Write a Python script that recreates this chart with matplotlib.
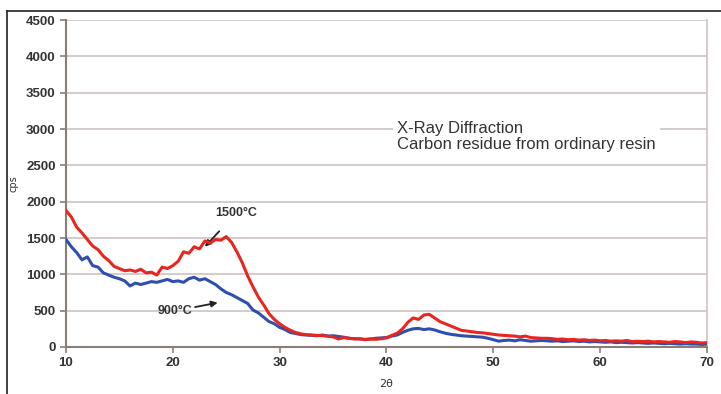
import numpy as np
import matplotlib
matplotlib.use("Agg")
import matplotlib.pyplot as plt
from matplotlib.lines import Line2D

# 2theta grid, 0.5 deg steps
two_theta = np.arange(10.0, 70.01, 0.5)

# cps
cps_1500 = [1880, 1790, 1650, 1570, 1480, 1390, 1340, 1250, 1190, 1110,
            1080, 1050, 1060, 1040, 1070, 1020, 1030, 990, 1100, 1080,
            1120, 1180, 1310, 1290, 1380, 1350, 1460, 1430, 1480, 1470,
            1520, 1440, 1310, 1160, 980, 830, 690, 580, 460, 380,
            320, 270, 230, 200, 180, 170, 165, 160, 155, 150,
            140, 110, 130, 120, 110, 115, 100, 110, 105, 115,
            125, 160, 190, 250, 340, 400, 380, 440, 450, 400,
            350, 320, 290, 260, 230, 220, 210, 200, 195, 185,
            175, 165, 160, 155, 150, 140, 150, 130, 125, 120,
            120, 115, 105, 110, 100, 105, 95, 100, 90, 95,
            85, 90, 80, 85, 80, 90, 75, 80, 75, 80,
            70, 75, 70, 65, 75, 70, 60, 70, 65, 55,
            60]

cps_900 = [1480, 1380, 1300, 1200, 1240, 1120, 1100, 1020, 990, 960,
           940, 910, 840, 880, 860, 880, 900, 890, 910, 930,
           900, 910, 890, 940, 960, 920, 940, 900, 860, 800,
           750, 720, 680, 640, 600, 510, 470, 410, 350, 320,
           270, 240, 200, 185, 170, 165, 160, 155, 165, 150,
           155, 145, 135, 120, 115, 110, 105, 110, 120, 125,
           130, 150, 165, 200, 230, 250, 255, 240, 250, 235,
           210, 190, 175, 165, 155, 150, 145, 140, 135, 120,
           100, 80, 90, 95, 85, 100, 90, 80, 85, 90,
           85, 80, 85, 75, 80, 85, 75, 80, 70, 75,
           70, 65, 70, 60, 65, 60, 55, 60, 55, 50,
           55, 50, 45, 50, 45, 40, 45, 40, 40, 35,
           40]

x_ticks = [10, 20, 30, 40, 50, 60, 70]
y_ticks = [0, 500, 1000, 1500, 2000, 2500, 3000, 3500, 4000, 4500]

fig = plt.figure(figsize=(7.21, 3.94), dpi=100)
ax = fig.add_axes([0.0915, 0.1193, 0.8891, 0.8297])

ax.plot(two_theta, cps_900, color='#2f4fae', lw=2.2, zorder=3)
ax.plot(two_theta, cps_1500, color='#e8261f', lw=2.2, zorder=4)

ax.set_xlim(10, 70)
ax.set_ylim(0, 4500)
ax.set_xticks(x_ticks)
ax.set_yticks(y_ticks)
ax.grid(axis='y', color='#cdc2c2', lw=1.2)
ax.set_axisbelow(True)

for s in ['left', 'bottom']:
    ax.spines[s].set_color('#8a7d78')
    ax.spines[s].set_linewidth(1.5)
ax.spines['right'].set_color('#cdc2c2')
ax.spines['right'].set_linewidth(1.2)
ax.spines['top'].set_visible(False)

ax.tick_params(axis='both', colors='#8a7d78', length=4, width=1.2)
for lab in ax.get_xticklabels() + ax.get_yticklabels():
    lab.set_fontweight('bold')
    lab.set_fontsize(9.5)
    lab.set_color('#333333')
    lab.set_family('Liberation Sans')

ax.set_ylabel('cps', fontsize=7, color='#333333', labelpad=5)
ax.set_xlabel('2\u03b8', fontsize=8, color='#333333', labelpad=7)

ax.text(0.516, 0.645, 'X-Ray Diffraction\nCarbon residue from ordinary resin',
        transform=ax.transAxes, fontsize=12, color='#333333',
        family='Liberation Sans', va='center', ha='left', linespacing=1.1,
        bbox=dict(facecolor='white', edgecolor='none', pad=3), zorder=5)

ax.annotate('1500\u00b0C', xy=(23.0, 1380), xytext=(25.9, 1840),
            fontsize=9, fontweight='bold', color='#333333', family='Liberation Sans',
            ha='center', va='center',
            arrowprops=dict(arrowstyle='-|>', color='#222222', lw=1.3,
                            shrinkA=9, shrinkB=0, mutation_scale=9))
ax.annotate('900\u00b0C', xy=(24.2, 610), xytext=(20.2, 496),
            fontsize=9, fontweight='bold', color='#333333', family='Liberation Sans',
            ha='center', va='center',
            arrowprops=dict(arrowstyle='-|>', color='#222222', lw=1.3,
                            shrinkA=22, shrinkB=0, mutation_scale=9))

# outer frame lines (left and top)
fig.add_artist(Line2D([0.0097, 0.0097], [0.0, 0.972], color='#222222', lw=1.2))
fig.add_artist(Line2D([0.0097, 1.0], [0.972, 0.972], color='#222222', lw=1.2))

fig.savefig('out.png', dpi=100, facecolor='white')
